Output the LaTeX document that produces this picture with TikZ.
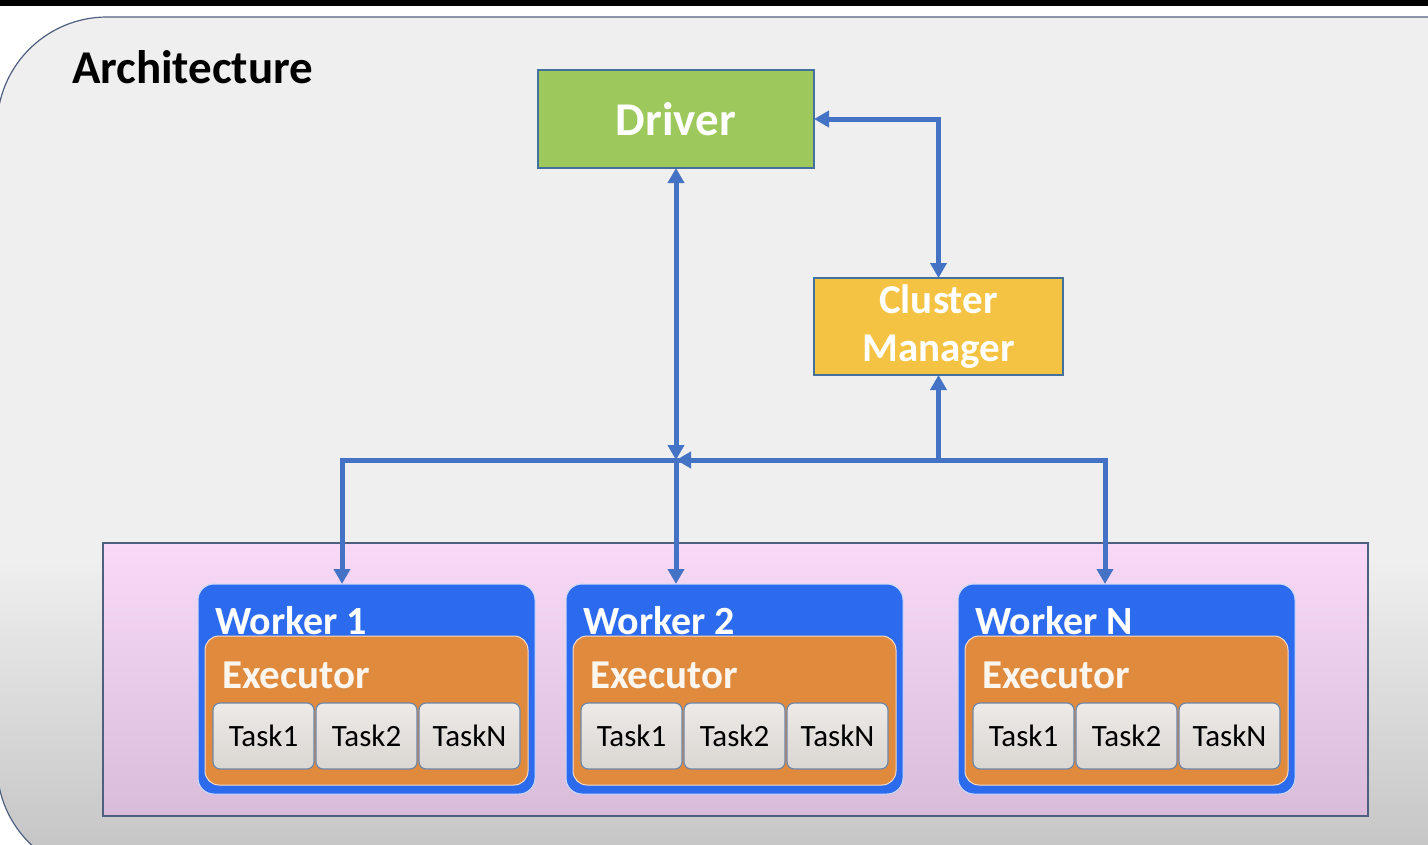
\documentclass[tikz,border=0pt]{standalone}
\usepackage{fontspec}
\setmainfont{Carlito}
\usetikzlibrary{calc,positioning,arrows.meta}
\definecolor{linkblue}{HTML}{4472C4}
\definecolor{boxline}{HTML}{41719C}
\definecolor{drivergreen}{HTML}{9DC85C}
\definecolor{cmyellow}{HTML}{F5C343}
\definecolor{panelbg}{HTML}{EFEFEF}
\definecolor{panelshade}{HTML}{C2C2C2}
\definecolor{panelline}{HTML}{4F5F80}
\definecolor{pinktop}{HTML}{F8DAF8}
\definecolor{pinkbottom}{HTML}{D8BCDA}
\definecolor{workerblue}{HTML}{2C6BEE}
\definecolor{execorange}{HTML}{E08A3E}
\definecolor{tasktop}{HTML}{EDEAE7}
\definecolor{taskbottom}{HTML}{DAD6D2}
\definecolor{taskline}{HTML}{6E86A8}

\begin{document}
\begin{tikzpicture}[x=1pt,y=-1pt,
    every node/.style={inner sep=0pt, outer sep=0pt},
    box/.style={draw=boxline, line width=1.2pt, text=white, font=\bfseries},
    link/.style={draw=linkblue, line width=5pt, -{Triangle[length=15pt,width=16pt]}},
    biglink/.style={link, {Triangle[length=15pt,width=16pt]}-{Triangle[length=15pt,width=16pt]}},
    worker/.style={fill=workerblue, draw=white!75!workerblue, line width=1pt, rounded corners=16pt,
      minimum width=337pt, minimum height=210pt},
    executor/.style={fill=execorange, draw=white!70!execorange, line width=1pt, rounded corners=14pt,
      minimum width=323pt, minimum height=149pt},
    task/.style={top color=tasktop, bottom color=taskbottom, draw=taskline, line width=1.2pt,
      rounded corners=7pt, minimum width=101pt, minimum height=66pt, font=\fontsize{31}{34}\selectfont},
    wlabel/.style={text=white, font=\bfseries\fontsize{40}{44}\selectfont},
    exlabel/.style={text=white!92!execorange, font=\bfseries\fontsize{41}{44}\selectfont}
  ]
  \clip (0,0) rectangle (1428,844);
  \fill[white] (0,0) rectangle (1428,844);
  \fill[black] (0,0) rectangle (1428,6);

  % background panel
  \begin{scope}
    \clip[rounded corners=110pt] (-3,17) rectangle (1600,875);
    \fill[panelbg] (-3,17) rectangle (1600,875);
    \shade[top color=panelbg, bottom color=panelshade] (-3,560) rectangle (1600,875);
  \end{scope}
  \draw[panelline, line width=1.2pt, rounded corners=110pt] (-3,17) rectangle (1600,875);

  \node[anchor=base west, font=\bfseries\fontsize{47}{50}\selectfont] (title) at (72,83) {Architecture};

  % driver and cluster manager
  \node[box, fill=drivergreen, minimum width=276pt, minimum height=98pt,
    font=\bfseries\fontsize{47}{50}\selectfont] (drv) at (676,119) {Driver};
  \node[box, fill=cmyellow, minimum width=249pt, minimum height=97pt, align=center,
    font=\bfseries\fontsize{41}{48}\selectfont] (cm) at (938.5,326.5) {Cluster\\Manager};

  % worker cluster
  \node[draw=panelline, line width=1.2pt, top color=pinktop, bottom color=pinkbottom,
    minimum width=1265pt, minimum height=273pt] (clu) at (735.5,679.5) {};

  \foreach \i/\cx/\name in {1/366.5/Worker 1, 2/734.5/Worker 2, n/1126.5/Worker N} {
    \node[worker] (w\i) at (\cx,689) {};
    \node[wlabel, anchor=base west] (wl\i) at ($(w\i.north west)+(17,50)$) {\name};
    \node[executor] (e\i) at (\cx,710.5) {};
    \node[exlabel, anchor=base west] (el\i) at ($(e\i.north west)+(17,52)$) {Executor};
    \node[task] (t\i-1) at ($(e\i.west)+(58.5,25.5)$) {Task1};
    \node[task, right=2pt of t\i-1] (t\i-2) {Task2};
    \node[task, right=2pt of t\i-2] (t\i-n) {TaskN};
  }

  % connectors
  \coordinate (hub) at (676,460);
  \coordinate (j1) at (342,460);
  \coordinate (jn) at (1105,460);
  \draw[link] (hub) -- (j1) -- (j1 |- w1.north);
  \draw[link] (hub) -- (jn) -- (jn |- wn.north);
  \draw[link] (hub) -- (hub |- w2.north);
  \draw[biglink] (drv.east) -| (cm.north);
  \draw[biglink] (cm.south) |- (hub);
  \draw[biglink] (drv.south) -- (hub);
\end{tikzpicture}
\end{document}
